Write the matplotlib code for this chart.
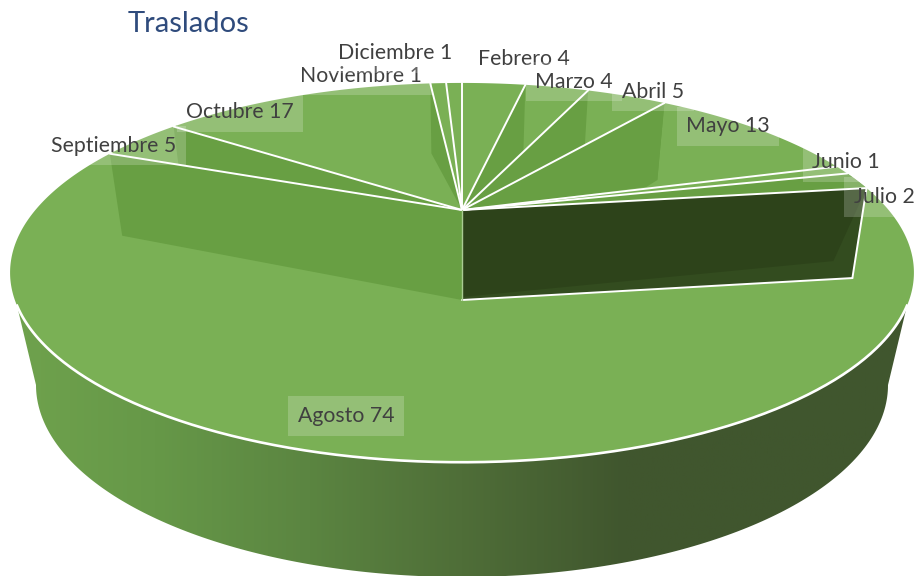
import numpy as np
import matplotlib
matplotlib.use("Agg")
import matplotlib.pyplot as plt
from matplotlib.patches import Polygon
from matplotlib.colors import LinearSegmentedColormap

months = ['Febrero', 'Marzo', 'Abril', 'Mayo', 'Junio', 'Julio', 'Agosto',
          'Septiembre', 'Octubre', 'Noviembre', 'Diciembre']
values = [4, 4, 5, 13, 1, 2, 74, 5, 17, 1, 1]
title = 'Traslados'

# label centres in pixels, same order as months
label_x = [524, 574, 653, 728, 846, 884, 346, 114, 240, 361, 395]
label_y = [59, 81.5, 91.5, 126.5, 162, 197, 416, 145.5, 112.5, 75.5, 53]

TOP = '#7ab055'
WALL = '#689f43'
HOLE = '#2d431a'
HOLE_SIDE = '#334c1f'
TEXT = '#404040'

# perspective of the unit disc onto the picture, fitted to the reference
cx, cy = 462.0, 210.0
k, A, B = 0.33, 426.6, 169.0


def rim(theta):
    """Pixel position of the disc edge, theta in degrees clockwise from the back"""
    t = np.radians(theta)
    X, Y = np.sin(t), -np.cos(t)
    w = 1 - k * Y
    return np.array([cx + A * X / w, cy + B * Y / w]).T


def lower(theta, dy):
    p = rim(theta)
    return np.array([cx + 0.965 * (p[0] - cx), p[1] + dy])


def add_wall(ax, pts, color=WALL, z=3):
    ax.add_patch(Polygon(pts, closed=True, fc=color, ec='none', zorder=z))


def white_line(ax, a, b, lw=1.4, color='white', z=6):
    ax.plot([a[0], b[0]], [a[1], b[1]], color=color, lw=lw, zorder=z,
            solid_capstyle='round')


fig = plt.figure(figsize=(9.19, 5.76), dpi=100)
ax = fig.add_axes([0, 0, 1, 1])
ax.set_xlim(0, 919)
ax.set_ylim(576, 0)
ax.axis('off')

edges = 360 * np.cumsum([0] + values) / np.sum(values)
center = np.array([cx, cy])
pit = np.array([cx, cy + 90])

# outer side of the pie, gradient clipped to the band
theta = np.linspace(0, 360, 721)
outline = rim(theta)
front = outline[outline[:, 1] >= 305]
front = front[np.argsort(front[:, 0])]
t = np.linspace(np.pi, 0, 200)
bottom = np.array([462 + 426 * np.cos(t), 385 + 192 * np.sin(t)]).T[::-1]
band = np.vstack([front, bottom])
band_patch = Polygon(band, closed=True, fc='none', ec='none')
ax.add_patch(band_patch)
cmap = LinearSegmentedColormap.from_list(
    'side', [(0, '#6fa24d'), (0.16, '#669848'), (0.33, '#5b8541'),
             (0.5, '#4f6e38'), (0.68, '#40562e'), (1, '#40562e')])
im = ax.imshow(np.linspace(0, 1, 512)[None, :], extent=[10, 915, 578, 290],
               cmap=cmap, aspect='auto', zorder=1)
im.set_clip_path(band_patch)
ax.set_xlim(0, 919)
ax.set_ylim(576, 0)

# top surface
ax.add_patch(Polygon(outline, closed=True, fc=TOP, ec='none', zorder=2))

# white edge along the front
ax.plot(front[:, 0], front[:, 1], color='white', lw=1.9, zorder=5)

aug_start, aug_end = edges[6], edges[7]

# walls seen through the gaps between the slices
for i, dy in [(1, 75), (2, 75), (3, 77), (8, 80), (9, 70)]:
    add_wall(ax, [rim(edges[i]), lower(edges[i], dy), center])
add_wall(ax, [rim(edges[3]), lower(edges[3], 77),
              lower(edges[3], 77) + np.array([-11, 7]), center])

# Julio is in shadow as a whole
add_wall(ax, np.vstack([[center], rim(np.linspace(edges[5], edges[6], 8))]))

# wall left of the gap
add_wall(ax, [rim(aug_end), center, pit, lower(aug_end, 82)])

# dark gap left by the pulled out Agosto slice
corner = lower(aug_start, 90)
inner = corner + np.array([-19, -17])
add_wall(ax, [center, rim(aug_start), corner, pit], HOLE_SIDE, z=4)
add_wall(ax, [center, rim(aug_start), inner, pit - np.array([0, 3])], HOLE, z=4)

# slice borders
for i in range(len(edges) - 1):
    white_line(ax, center, rim(edges[i]))
white_line(ax, rim(aug_start), corner)
white_line(ax, corner, pit)
white_line(ax, center, pit, lw=1.0, color='#a9cc92')

for name, v, x, y in zip(months, values, label_x, label_y):
    ax.text(x, y, f'{name} {v}', ha='center', va='center', color=TEXT,
            fontsize=15.3, family=['Lato', 'DejaVu Sans'], zorder=8,
            bbox=dict(boxstyle='square,pad=0.45', fc='white', ec='none', alpha=0.2))

ax.text(188, 24, title, ha='center', va='center', color='#2f4b7c',
        fontsize=21, family=['Lato', 'DejaVu Sans'], zorder=8)

fig.savefig('out.png', dpi=100)
